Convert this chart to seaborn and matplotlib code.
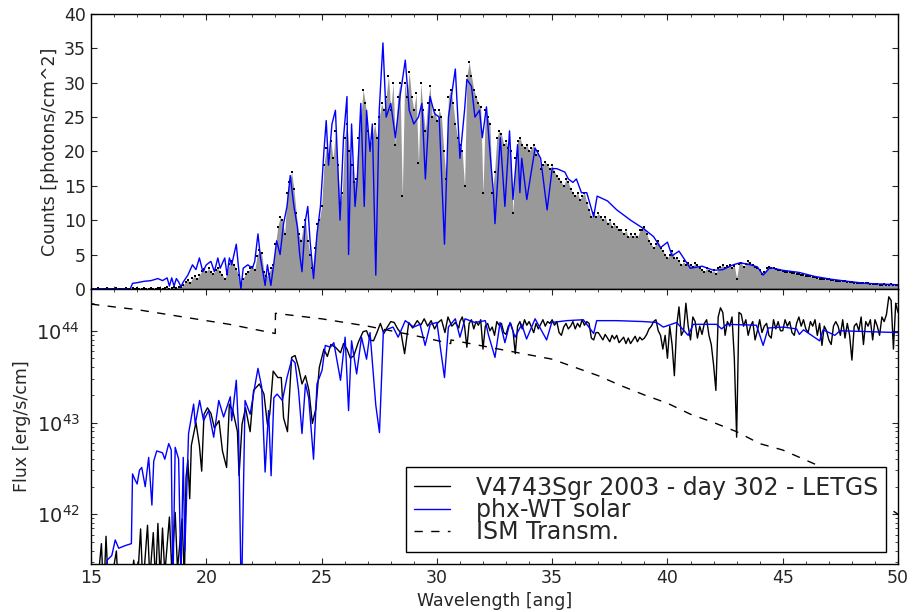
import numpy as np
import pandas as pd
import matplotlib
matplotlib.use("Agg")
import matplotlib.pyplot as plt
import seaborn as sns
from matplotlib.ticker import MultipleLocator

# ======================================
# DATA
# ======================================

# top panel: counts, one point every 0.1 ang from 15 to 50
dot_start, dot_step = 15.0, 0.1
dot_counts = [
    0, 0, 0, 0.1, 0, 0, 0, 0.1, 0, 0,
    0, 0.1, 0, 0, 0, 0.1, 0, 0, 0.1, 0,
    0.1, 0, 0, 0.1, 0, 0, 0.1, 0, 0, 0.1,
    0.1, 0, 0.1, 0.2, 0, 0.1, 0.2, 0.1, 0.3, 0.2,
    0.6, 1.0, 1.3, 0.9, 1.6, 1.8, 1.5, 2.0, 2.6, 2.9,
    2.5, 3.0, 2.4, 2.2, 2.7, 3.0, 2.5, 2.0, 1.5, 2.2,
    3.6, 4.0, 3.5, 2.9, 2.0, 0.6, 1.5, 2.2, 2.5, 3.0,
    3.2, 2.8, 4.8, 5.6, 5.2, 2.4, 1.8, 2.2, 3.0, 3.5,
    6.5, 9.0, 10.5, 10.0, 8.0, 14.0, 15.5, 17.0, 14.5, 11.0,
    8.0, 7.0, 9.0, 10.0, 7.0, 5.0, 3.0, 6.0, 9.5, 10.0,
    12.0, 18.0, 20.5, 19.0, 21.5, 19.0, 23.0, 18.0, 12.5, 14.0,
    22.0, 24.0, 20.0, 18.0, 15.5, 16.0, 22.0, 25.0, 29.0, 27.0,
    23.0, 21.0, 22.0, 24.0, 22.0, 25.0, 27.0, 26.0, 28.0, 31.0,
    26.0, 30.0, 21.0, 28.0, 30.0, 13.5, 30.0, 28.0, 31.5, 28.0,
    26.0, 28.5, 18.3, 30.0, 26.0, 23.0, 27.0, 29.5, 25.0, 26.0,
    24.5, 26.0, 25.0, 20.0, 16.0, 28.0, 29.0, 27.0, 24.0, 22.0,
    21.0, 20.0, 15.0, 31.0, 33.0, 31.0, 29.0, 28.0, 27.0, 26.5,
    14.0, 26.0, 25.0, 24.0, 14.0, 17.0, 22.0, 23.0, 22.5, 21.0,
    21.5, 20.5, 20.0, 11.0, 19.0, 21.5, 22.0, 21.0, 20.5, 21.0,
    20.0, 20.5, 21.0, 19.5, 20.0, 17.5, 18.0, 18.5, 18.0, 17.5,
    18.0, 17.0, 16.5, 16.0, 15.5, 15.0, 16.0, 15.5, 14.5, 14.0,
    13.5, 14.0, 13.0, 13.5, 14.0, 12.5, 11.5, 10.5, 11.0, 10.5,
    11.0, 10.5, 10.0, 10.5, 9.5, 10.0, 9.0, 9.5, 9.0, 8.5,
    8.5, 8.0, 8.5, 7.5, 8.0, 7.5, 8.0, 7.5, 8.5, 8.5,
    9.0, 8.0, 7.0, 6.5, 6.0, 6.5, 7.0, 6.0, 5.5, 5.0,
    4.5, 5.0, 5.5, 4.5, 4.5, 4.0, 3.5, 4.0, 3.5, 3.8,
    3.5, 3.2, 3.8, 3.5, 3.0, 2.8, 2.5, 3.0, 2.6, 2.4,
    2.7, 2.2, 3.0, 3.2, 3.5, 3.0, 3.3, 3.5, 3.0, 3.4,
    1.5, 3.6, 3.8, 3.2, 3.6, 4.0, 3.8, 3.5, 3.2, 3.0,
    2.8, 2.2, 2.5, 3.0, 3.2, 3.1, 3.0, 2.9, 2.8, 2.7,
    2.6, 2.5, 2.5, 2.4, 2.3, 2.3, 2.2, 2.1, 2.0, 2.0,
    1.9, 1.8, 1.8, 1.7, 1.7, 1.6, 1.5, 1.5, 1.5, 1.4,
    1.4, 1.3, 1.3, 1.2, 1.2, 1.2, 1.1, 1.1, 1.0, 1.0,
    1.0, 0.9, 0.9, 0.9, 0.8, 0.8, 0.8, 0.8, 0.7, 0.7,
    0.7, 0.7, 0.6, 0.6, 0.7, 0.6, 0.6, 0.7, 0.6, 0.6,
    0.6,
]

# blue model in counts
model_top_wave = [
    15.0, 16.7, 16.8, 17.0, 17.3, 17.6, 17.9, 18.1, 18.3, 18.4, 18.5, 18.6,
    18.7, 18.8, 18.9, 19.0, 19.2, 19.4, 19.55, 19.7, 19.85, 20.0, 20.2, 20.35,
    20.5, 20.6, 20.8, 20.9, 21.0, 21.1, 21.3, 21.4, 21.5, 21.6, 21.8, 22.0,
    22.1, 22.24, 22.35, 22.55, 22.65, 22.8, 22.9, 23.05, 23.2, 23.35, 23.5, 23.64,
    23.8, 23.95, 24.05, 24.15, 24.3, 24.4, 24.5, 24.65, 24.8, 24.95, 25.1, 25.2,
    25.3, 25.45, 25.6, 25.8, 25.95, 26.1, 26.17, 26.3, 26.45, 26.55, 26.7, 26.85,
    26.95, 27.1, 27.2, 27.35, 27.5, 27.66, 27.8, 28.0, 28.2, 28.4, 28.63, 28.8,
    29.0, 29.2, 29.35, 29.5, 29.7, 29.9, 30.1, 30.33, 30.5, 30.8, 31.0, 31.2,
    31.3, 31.5, 31.65, 31.85, 31.97, 32.15, 32.3, 32.45, 32.52, 32.75, 32.95, 33.15,
    33.3, 33.5, 33.6, 33.68, 33.9, 34.26, 34.5, 34.78, 35.0, 35.2, 35.55, 35.7,
    35.9, 36.05, 36.27, 36.5, 36.8, 36.95, 37.4, 37.8, 38.4, 38.95, 39.4, 39.7,
    40.0, 40.2, 40.5, 40.99, 41.5, 42.0, 42.4, 42.85, 43.15, 43.6, 43.9, 44.15,
    44.45, 45.0, 45.7, 46.4, 47.1, 47.8, 48.6, 49.3, 50.0,
]
model_top_counts = [
    0, 0, 0.8, 0.9, 1.1, 1.2, 1.5, 1.2, 1.6, 0.4, 1.6, 0.4,
    1.5, 1.0, 0.3, 1.0, 2.0, 3.5, 2.8, 4.5, 2.5, 3.5, 4.0, 2.5,
    4.5, 3.0, 4.5, 2.0, 4.5, 3.5, 6.5, 3.0, 0.0, 3.0, 3.5, 3.0,
    4.0, 8.0, 4.5, 0.5, 3.5, 0.5, 3.0, 7.0, 5.0, 9.5, 12.0, 16.5,
    12.0, 9.0, 5.0, 2.5, 10.0, 12.0, 7.0, 1.5, 8.0, 12.0, 20.0, 24.5,
    18.0, 24.0, 26.0, 10.0, 22.0, 28.0, 5.0, 24.0, 12.0, 16.0, 27.0, 12.0,
    26.0, 20.0, 24.0, 2.0, 26.0, 35.8, 25.0, 27.0, 22.0, 28.0, 33.3, 26.0,
    24.0, 25.0, 27.0, 16.0, 28.0, 25.5, 25.0, 6.5, 25.0, 32.0, 19.0, 26.0,
    30.5, 29.5, 25.0, 26.0, 22.0, 26.5, 20.0, 14.0, 9.5, 22.0, 12.0, 23.0,
    13.0, 21.0, 14.0, 19.0, 13.0, 20.5, 19.0, 11.5, 17.5, 17.5, 17.0, 16.0,
    15.5, 16.0, 14.0, 14.0, 10.5, 13.5, 12.8, 11.5, 10.0, 8.8, 7.6, 6.0,
    6.8, 4.8, 5.5, 3.0, 3.3, 2.7, 2.8, 3.5, 3.8, 3.5, 3.2, 2.0,
    3.1, 2.7, 2.4, 1.8, 1.4, 1.1, 0.8, 0.7, 0.6,
]

# bottom panel, log10 of flux [erg/s/cm]
# observed spectrum below 31 ang (uneven steps)
obs_wave_blue = [
    15.0, 15.2, 15.45, 15.55, 15.65, 15.75, 15.9, 16.1, 16.2, 16.5, 16.7, 16.85,
    17.0, 17.15, 17.25, 17.45, 17.55, 17.7, 17.8, 17.9, 18.0, 18.1, 18.2, 18.4,
    18.5, 18.65, 18.75, 18.95, 19.05, 19.12, 19.2, 19.28, 19.35, 19.55, 19.7, 19.8,
    19.9, 20.05, 20.2, 20.35, 20.55, 20.7, 20.88, 21.0, 21.15, 21.35, 21.42, 21.55,
    21.7, 21.9, 22.05, 22.3, 22.5, 22.65, 22.75, 22.9, 23.1, 23.25, 23.35, 23.52,
    23.7, 23.85, 24.0, 24.15, 24.3, 24.45, 24.6, 24.75, 24.9, 25.1, 25.25, 25.4,
    25.6, 25.82, 25.95, 26.1, 26.25, 26.4, 26.6, 26.8, 26.95, 27.1, 27.25, 27.4,
    27.55, 27.7, 27.85, 28.0, 28.15, 28.3, 28.45, 28.6, 28.78, 28.95, 29.15, 29.3,
    29.45, 29.6, 29.75, 29.9, 30.05, 30.2, 30.35, 30.48, 30.65, 30.8, 30.95,
]
obs_logflux_blue = [
    41.2, 41.0, 41.68, 41.1, 41.76, 41.2, 41.3, 41.6, 41.1, 41.35, 41.1, 41.5,
    41.2, 41.84, 41.2, 41.88, 41.3, 41.8, 41.25, 41.9, 41.3, 41.85, 41.35, 41.97,
    41.4, 42.02, 41.4, 41.95, 41.3, 42.4, 42.59, 42.17, 42.75, 43.0, 42.75, 42.47,
    43.09, 43.16, 43.1, 42.94, 43.02, 42.69, 42.51, 43.2, 43.13, 42.9, 42.42, 42.98,
    43.16, 42.9, 43.35, 43.42, 43.31, 42.98, 43.09, 43.56, 43.49, 43.49, 43.05, 42.9,
    43.71, 43.73, 43.6, 43.42, 43.51, 43.35, 42.99, 43.15, 43.6, 43.8, 43.72, 43.85,
    43.82, 43.76, 43.86, 43.8, 43.7, 43.73, 43.88, 43.99, 44.0, 43.9, 43.89, 43.98,
    44.08, 43.97, 44.04, 44.1, 44.09, 44.02, 43.97, 43.75, 44.09, 44.03, 44.11, 44.06,
    44.13, 44.05, 44.11, 44.02, 44.09, 44.12, 43.98, 44.15, 44.05, 44.09, 44.03,
]
# observed spectrum from 31 to 50 ang, one point every 0.1 ang
obs_fine_start, obs_fine_step = 31.0, 0.1
obs_logflux_fine = [
    44.10, 44.15, 44.05, 43.82, 44.08, 44.12, 44.02, 44.10, 44.06, 44.12,
    43.80, 44.05, 44.08, 44.00, 44.04, 43.95, 44.10, 44.06, 44.08, 43.98,
    43.96, 44.05, 44.08, 44.00, 43.75, 44.05, 44.10, 44.02, 44.12, 44.06,
    44.10, 44.04, 43.98, 44.08, 44.02, 44.07, 44.12, 44.05, 44.10, 44.08,
    44.12, 44.06, 44.10, 43.98, 43.95, 44.04, 44.08, 44.02, 44.05, 44.10,
    44.02, 44.08, 44.04, 44.12, 44.06, 44.10, 44.08, 43.92, 43.90, 43.98,
    43.98, 43.94, 43.90, 43.96, 43.92, 43.88, 43.95, 43.91, 43.95, 43.87,
    43.90, 43.93, 43.86, 43.92, 43.86, 43.90, 43.94, 43.88, 43.93, 43.90,
    43.92, 43.96, 44.02, 44.05, 44.10, 44.12, 44.00, 43.95, 43.80, 43.95,
    43.70, 44.05, 43.85, 43.51, 44.05, 44.26, 43.95, 44.00, 44.30, 44.05,
    43.90, 44.15, 44.10, 43.92, 44.05, 43.96, 44.08, 44.12, 43.95, 43.85,
    43.63, 43.35, 44.15, 44.25, 44.20, 43.95, 44.10, 44.05, 44.15, 43.70,
    42.84, 44.20, 44.18, 44.05, 44.12, 43.95, 44.05, 44.10, 43.90, 44.00,
    44.12, 43.98, 44.05, 44.08, 43.95, 43.92, 44.12, 44.02, 44.10, 44.00,
    44.00, 44.12, 44.05, 44.10, 43.98, 43.95, 44.08, 44.15, 44.05, 44.12,
    44.02, 43.98, 44.10, 44.05, 44.12, 43.95, 44.08, 43.84, 44.05, 44.00,
    43.90, 43.85, 44.05, 44.10, 44.05, 43.95, 44.12, 43.92, 44.08, 43.95,
    43.68, 44.05, 44.08, 44.00, 44.15, 43.85, 44.10, 44.05, 44.12, 43.90,
    44.12, 44.05, 43.95, 44.15, 44.10, 44.18, 44.37, 44.33, 43.80, 44.30,
    44.20,
]

model_wave = [
    15.0, 15.6, 15.7, 15.9, 16.05, 16.2, 16.5, 16.75, 16.8, 16.9, 17.0, 17.1,
    17.2, 17.35, 17.5, 17.64, 17.72, 17.85, 18.1, 18.2, 18.37, 18.48, 18.55, 18.65,
    18.8, 18.9, 19.0, 19.07, 19.23, 19.45, 19.52, 19.71, 19.88, 20.1, 20.32, 20.54,
    20.75, 21.04, 21.1, 21.3, 21.4, 21.52, 21.68, 21.9, 22.1, 22.24, 22.4, 22.55,
    22.7, 22.81, 22.93, 23.07, 23.3, 23.5, 23.71, 23.85, 24.0, 24.15, 24.3, 24.44,
    24.65, 24.8, 25.02, 25.16, 25.38, 25.53, 25.82, 26.02, 26.17, 26.3, 26.52, 26.73,
    26.95, 27.1, 27.35, 27.51, 27.68, 28.1, 28.32, 28.63, 28.99, 29.27, 29.49, 29.71,
    30.0, 30.33, 30.5, 30.8, 31.0, 31.22, 31.65, 32.1, 32.23, 32.52, 32.74, 32.95,
    33.17, 33.39, 33.68, 33.89, 34.26, 34.76, 34.98, 35.63, 36.35, 36.8, 36.93, 37.8,
    38.95, 39.53, 39.82, 40.4, 40.9, 41.12, 42.13, 42.35, 42.56, 43.86, 44.15, 44.37,
    45.02, 45.6, 45.72, 45.9, 46.6, 46.75, 47.26, 47.48, 50.0,
]
model_logflux = [
    41.0, 41.3, 41.5, 41.55, 41.72, 41.63, 41.66, 41.68, 42.44, 42.38, 42.33, 42.48,
    42.51, 42.3, 42.62, 42.1, 42.58, 42.69, 42.67, 42.6, 42.77, 42.7, 41.2, 42.73,
    42.6, 41.3, 42.62, 41.6, 42.88, 43.2, 42.98, 43.24, 43.02, 43.13, 42.84, 43.24,
    43.06, 43.28, 43.02, 43.46, 42.9, 41.0, 43.24, 43.09, 43.39, 43.59, 43.39, 42.46,
    43.13, 42.42, 43.27, 43.31, 43.24, 43.49, 43.69, 43.65, 43.35, 42.88, 43.42, 43.27,
    42.6, 43.42, 43.57, 43.84, 43.82, 43.87, 43.46, 43.93, 43.13, 43.89, 43.53, 43.93,
    43.69, 43.98, 43.19, 42.89, 44.0, 44.04, 43.93, 44.11, 44.04, 44.07, 43.84, 44.07,
    44.09, 43.49, 44.04, 44.13, 43.93, 44.13, 44.09, 44.11, 43.96, 43.71, 44.09, 43.87,
    44.09, 43.93, 44.07, 43.91, 44.13, 43.9, 44.09, 44.11, 44.12, 43.97, 44.11, 44.11,
    44.1, 44.09, 44.04, 44.09, 43.95, 44.07, 44.07, 44.02, 44.07, 44.06, 43.84, 44.03,
    44.04, 44.02, 43.96, 44.01, 43.89, 44.01, 43.95, 44.0, 43.98,
]

# ISM transmission (scaled onto the flux axis), log10
ism_wave = [15.0, 17.0, 19.0, 21.0, 22.99, 23.0, 25.0, 27.0, 29.0, 30.6, 30.61,
            33.0, 35.0, 36.0, 37.0, 38.0, 39.0, 40.0, 41.0, 42.0, 43.0, 44.0,
            45.0, 46.0, 47.0, 48.0, 49.0, 50.0]
ism_logflux = [44.29, 44.23, 44.15, 44.07, 43.97, 44.19, 44.13, 44.05, 43.95, 43.86, 43.9,
               43.785, 43.69, 43.6, 43.51, 43.4, 43.3, 43.21, 43.09, 43.0, 42.9, 42.77,
               42.7, 42.59, 42.48, 42.33, 42.17, 42.0]

legend_labels = ["V4743Sgr 2003 - day 302 - LETGS", "phx-WT solar", "ISM Transm."]

# ======================================
# TABLES
# ======================================

dots_df = pd.DataFrame({
    "wave": dot_start + dot_step * np.arange(len(dot_counts)),
    "counts": dot_counts,
})
model_top_df = pd.DataFrame({"wave": model_top_wave, "counts": model_top_counts})

obs_wave = list(obs_wave_blue) + list(
    obs_fine_start + obs_fine_step * np.arange(len(obs_logflux_fine)))
obs_log = list(obs_logflux_blue) + list(obs_logflux_fine)
obs_df = pd.DataFrame({"wave": obs_wave, "flux": 10.0 ** np.array(obs_log)})
model_df = pd.DataFrame({"wave": model_wave, "flux": 10.0 ** np.array(model_logflux)})
ism_df = pd.DataFrame({"wave": ism_wave, "flux": 10.0 ** np.array(ism_logflux)})

# ======================================
# STYLE
# ======================================

sns.set_style("ticks", {
    "xtick.direction": "in",
    "ytick.direction": "in",
    "axes.edgecolor": "black",
})
plt.rcParams["font.family"] = ["DejaVu Sans"]
plt.rcParams["font.size"] = 12.5
plt.rcParams["axes.linewidth"] = 1.0
plt.rcParams["xtick.major.size"] = 4
plt.rcParams["ytick.major.size"] = 4
plt.rcParams["xtick.minor.size"] = 2
plt.rcParams["ytick.minor.size"] = 2

fig = plt.figure(figsize=(9.13, 6.12), dpi=100)
ax_top = fig.add_axes([0.0997, 0.528, 0.8839, 0.449])
ax_bot = fig.add_axes([0.0997, 0.0784, 0.8839, 0.4496], sharex=ax_top)

# ======================================
# TOP PANEL - COUNTS
# ======================================

ax_top.fill_between(dots_df["wave"], dots_df["counts"], color="0.6", linewidth=0)
sns.scatterplot(data=dots_df, x="wave", y="counts", ax=ax_top,
                color="black", marker="s", s=3, linewidth=0, legend=False)
sns.lineplot(data=model_top_df, x="wave", y="counts", ax=ax_top,
             color="blue", linewidth=1.0, sort=False, estimator=None)

ax_top.set_xlim(15, 50)
ax_top.set_ylim(0, 40)
ax_top.yaxis.set_major_locator(MultipleLocator(5))
ax_top.xaxis.set_major_locator(MultipleLocator(5))
ax_top.xaxis.set_minor_locator(MultipleLocator(1))
ax_top.set_ylabel("Counts [photons/cm^2]")
ax_top.set_xlabel("")
ax_top.tick_params(labelbottom=False)
ax_top.tick_params(which="both", top=True, right=True, direction="in")

# ======================================
# BOTTOM PANEL - FLUX
# ======================================

ax_bot.set_yscale("log")
sns.lineplot(data=obs_df, x="wave", y="flux", ax=ax_bot, color="black",
             linewidth=1.0, sort=False, estimator=None, label=legend_labels[0])
sns.lineplot(data=model_df, x="wave", y="flux", ax=ax_bot, color="blue",
             linewidth=1.0, sort=False, estimator=None, label=legend_labels[1])
ax_bot.plot(ism_df["wave"], ism_df["flux"], color="black", linewidth=1.0,
            dashes=(6, 6), label=legend_labels[2])

ax_bot.set_xlim(15, 50)
ax_bot.set_ylim(2.87e41, 2.86e44)
ax_bot.set_xlabel("Wavelength [ang]")
ax_bot.set_ylabel("Flux [erg/s/cm]")
ax_bot.tick_params(which="both", top=True, right=True, direction="in")
ax_bot.tick_params(axis="y", which="major", labelsize=14, pad=8)

leg = ax_bot.legend(loc="lower right", fontsize=17, handlelength=1.5,
                    handletextpad=1.1, labelspacing=-0.08, borderpad=0.35,
                    borderaxespad=0.5, fancybox=False, framealpha=1.0)
leg.get_frame().set_edgecolor("black")
leg.get_frame().set_linewidth(1.0)

plt.savefig("out.png", dpi=100)
